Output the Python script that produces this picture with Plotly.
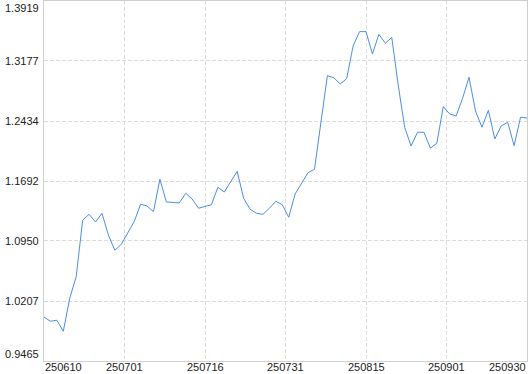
import plotly.graph_objects as go

values = [1.0010, 0.9957, 0.9969, 0.9833, 1.0241, 1.0508, 1.1206, 1.1280, 1.1185, 1.1293,
          1.1024, 1.0835, 1.0909, 1.1053, 1.1189, 1.1404, 1.1383, 1.1313, 1.1714, 1.1433,
          1.1429, 1.1420, 1.1540, 1.1470, 1.1355, 1.1375, 1.1399, 1.1615, 1.1556, 1.1684,
          1.1812, 1.1478, 1.1342, 1.1293, 1.1280, 1.1355, 1.1441, 1.1399, 1.1243, 1.1532,
          1.1668, 1.1795, 1.1837, 1.2419, 1.2995, 1.2970, 1.2893, 1.2958, 1.3363, 1.3540,
          1.3540, 1.3264, 1.3507, 1.3396, 1.3470, 1.2880, 1.2357, 1.2125, 1.2295, 1.2295,
          1.2098, 1.2159, 1.2612, 1.2521, 1.2497, 1.2716, 1.2975, 1.2559, 1.2357, 1.2567,
          1.2212, 1.2373, 1.2419, 1.2129, 1.2481, 1.2472]

x_tick_labels = ["250610", "250701", "250716", "250731", "250815", "250901", "250930"]
y_tick_labels = ["0.9465", "1.0207", "1.0950", "1.1692", "1.2434", "1.3177", "1.3919"]

n = len(values)
xs = list(range(n))
nx = len(x_tick_labels) - 1
x_tick_pos = [i * (n - 1) / nx for i in range(nx + 1)]
y_tick_pos = [float(t) for t in y_tick_labels]

FONT = dict(family="Liberation Sans, Arial", size=11, color="#222222")
GRID = "#dcdcdc"
BORDER = "#cfcfcf"

fig = go.Figure()
fig.add_trace(go.Scatter(x=xs, y=values, mode="lines",
                         line=dict(color="#4a8fe6", width=1), hoverinfo="skip"))

annotations = []
for i, (p, t) in enumerate(zip(x_tick_pos, x_tick_labels)):
    anchor = "left" if i == 0 else ("right" if i == nx else "center")
    annotations.append(dict(x=p, y=0, xref="x", yref="paper", text=t, showarrow=False,
                            xanchor=anchor, yanchor="top", yshift=1, borderpad=0, font=FONT))
ny = len(y_tick_labels) - 1
for i, (p, t) in enumerate(zip(y_tick_pos, y_tick_labels)):
    anchor = "bottom" if i == 0 else ("top" if i == ny else "middle")
    annotations.append(dict(x=0, y=p, xref="paper", yref="y", text=t, showarrow=False,
                            xanchor="right", yanchor=anchor, xshift=-4, borderpad=0, font=FONT))

fig.update_layout(
    width=530, height=374,
    margin=dict(l=44, r=3, t=1, b=13),
    paper_bgcolor="white", plot_bgcolor="white",
    showlegend=False,
    annotations=annotations,
    xaxis=dict(range=[0, n - 1], tickvals=x_tick_pos, showticklabels=False,
               showgrid=True, gridcolor=GRID, griddash="4px,2px", gridwidth=1,
               zeroline=False, showline=True, linecolor=BORDER, linewidth=1, mirror=True,
               ticks=""),
    yaxis=dict(range=[y_tick_pos[0], y_tick_pos[-1]], tickvals=y_tick_pos, showticklabels=False,
               showgrid=True, gridcolor=GRID, griddash="4px,2px", gridwidth=1,
               zeroline=False, showline=True, linecolor=BORDER, linewidth=1, mirror=True,
               ticks=""),
)

fig.write_html("out.html")
